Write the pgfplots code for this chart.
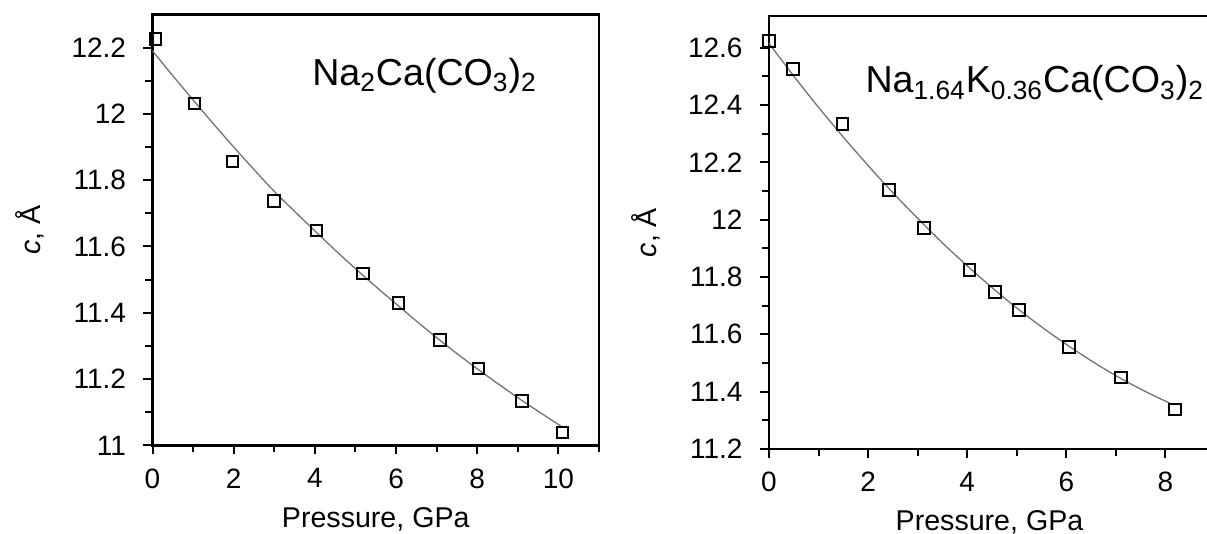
\documentclass[border=0pt]{standalone}
\usepackage{fontspec}
\setmainfont{Liberation Sans}
\usepackage{pgfplots}
\pgfplotsset{compat=1.18}

\pgfplotsset{
  panel/.style={
    scale only axis, anchor=south west, clip=false,
    axis line style={line width=1.2pt},
    tick align=outside, xtick pos=left, ytick pos=left,
    major tick length=4.5pt, minor tick length=3.5pt,
    every tick/.style={black, line width=1pt},
    /pgf/number format/assume math mode=true,
    tick label style={font=\fontsize{14}{14}\selectfont},
    yticklabel style={xshift=-5.2pt},
    xticklabel style={yshift=-3.5pt},
    label style={font=\fontsize{14.3}{14.3}\selectfont},
    xlabel style={at={(axis description cs:0.5,0)}, anchor=center, yshift=-36.8pt},
    ylabel style={at={(axis description cs:0,0.5)}, anchor=center, yshift=61.5pt},
    xlabel={Pressure, GPa}, ylabel={\textit{c}, Å},
    xtick distance=2, minor x tick num=1, minor y tick num=1,
  },
  fit/.style={black!55, line width=0.65pt, smooth, no markers},
  pts/.style={only marks, mark=square, mark size=2.9pt, mark options={black, line width=1pt}},
}
\tikzset{chemlbl/.style={anchor=base west, inner sep=0pt, font=\fontsize{18.8}{18.8}\selectfont}}

\begin{document}
\begin{tikzpicture}
\useasboundingbox (0,0) rectangle (603.5pt,267pt);

% left panel
\begin{axis}[panel, at={(76.25pt,44.3pt)}, width=223.25pt, height=215.5pt,
  xmin=0, xmax=11, ymin=11, ymax=12.3, ytick={11,11.2,...,12.21}]
\addplot[fit] coordinates {
(0,12.19) (0.5,12.115) (1,12.042) (1.5,11.97) (2,11.90) (2.5,11.832)
(3,11.766) (3.5,11.706) (4,11.647) (4.5,11.589) (5,11.533) (5.5,11.479)
(6,11.427) (6.5,11.375) (7,11.325) (7.5,11.277) (8,11.231) (8.5,11.187)
(9,11.144) (9.5,11.103) (10,11.063) (10.1,11.055)
};
\addplot[pts] coordinates {
(0.07,12.225) (1.03,12.031) (1.97,11.856) (3.0,11.737) (4.04,11.648)
(5.18,11.518) (6.06,11.429) (7.08,11.318) (8.03,11.232) (9.1,11.134)
(10.1,11.039)
};
\node[chemlbl] at (rel axis cs:0.357,0.835)
  {Na\textsubscript{2}Ca(CO\textsubscript{3})\textsubscript{2}};
\end{axis}

% right panel
\begin{axis}[panel, at={(384.5pt,42.5pt)}, width=220.5pt, height=216.4pt,
  xmin=0, xmax=8.9, ymin=11.2, ymax=12.71, ytick={11.2,11.4,...,12.61}]
\addplot[fit] coordinates {
(0,12.615) (0.5,12.501) (1,12.392) (1.5,12.288) (2,12.189) (2.5,12.094)
(3,12.005) (3.5,11.919) (4,11.839) (4.5,11.763) (5,11.692) (5.5,11.626)
(6,11.565) (6.5,11.508) (7,11.456) (7.5,11.409) (8,11.367) (8.15,11.355)
};
\addplot[pts] coordinates {
(0,12.624) (0.48,12.525) (1.48,12.333) (2.42,12.103) (3.125,11.97)
(4.05,11.824) (4.56,11.748) (5.05,11.684) (6.06,11.556) (7.1,11.45)
(8.19,11.338)
};
\node[chemlbl] at (rel axis cs:0.218,0.823)
  {Na\textsubscript{1.64}K\textsubscript{0.36}Ca(CO\textsubscript{3})\textsubscript{2}};
\end{axis}
\end{tikzpicture}
\end{document}
